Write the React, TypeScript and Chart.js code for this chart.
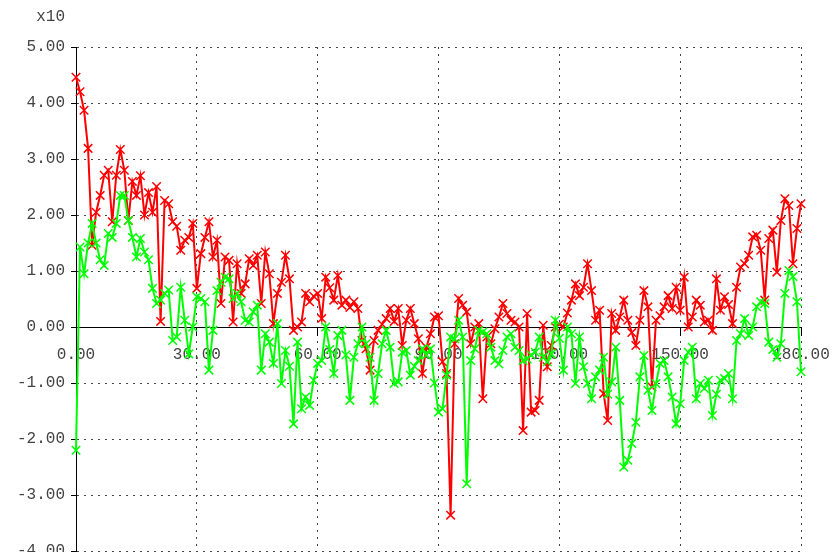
import React, { useEffect, useRef } from "react";
import { Chart, registerables } from "chart.js";

Chart.register(...registerables);

// Red series (values in units of x10), one value per sample 0..180
const redSeries: number[] = [
  4.46, 4.2, 3.87, 3.19, 1.46, 2.05, 2.35, 2.71, 2.8, 1.88,
  2.71, 3.17, 2.8, 1.9, 2.6, 2.35, 2.7, 2.0, 2.4, 2.05,
  2.51, 0.1, 2.26, 2.2, 1.88, 1.8, 1.37, 1.55, 1.6, 1.85,
  0.69, 1.31, 1.6, 1.88, 1.25, 1.55, 0.42, 1.25, 1.19, 0.09,
  1.13, 0.6, 0.77, 1.22, 1.1, 1.28, 0.42, 1.34, 0.95, 0.06,
  0.6, 0.8, 1.28, 0.86, -0.06, 0.0, 0.09, 0.6, 0.45, 0.55,
  0.6, 0.15, 0.89, 0.7, 0.48, 0.92, 0.39, 0.48, 0.35, 0.45,
  0.33, -0.24, -0.39, -0.77, -0.24, -0.06, 0.05, 0.15, 0.33, 0.1,
  0.33, -0.33, 0.12, 0.33, 0.06, -0.21, -0.83, -0.36, -0.12, 0.18,
  0.2, -0.62, -0.83, -3.36, -0.3, 0.51, 0.39, 0.27, -0.3, 0.0,
  0.06, -1.28, -0.18, -0.3, -0.03, 0.18, 0.42, 0.24, 0.12, 0.09,
  0.0, -1.85, 0.24, -1.52, -1.49, -1.31, 0.03, -0.71, -0.33, 0.0,
  0.05, 0.0, 0.25, 0.48, 0.77, 0.56, 0.71, 1.13, 0.65, 0.12,
  0.3, -1.19, -1.67, 0.24, -0.06, 0.18, 0.48, 0.12, -0.1, -0.33,
  0.12, 0.65, 0.36, -1.07, 0.12, 0.2, 0.36, 0.56, 0.33, 0.71,
  0.3, 0.89, 0.0, 0.18, 0.48, 0.39, 0.09, 0.12, -0.06, 0.86,
  0.3, 0.54, 0.4, 0.06, 0.71, 1.07, 1.13, 1.28, 1.61, 1.64,
  1.37, 0.48, 1.58, 1.73, 0.98, 1.9, 2.29, 2.17, 1.13, 1.76,
  2.2,
];

// Green series
const greenSeries: number[] = [
  -2.2, 1.43, 0.95, 1.5, 1.85, 1.5, 1.2, 1.1, 1.67, 1.6,
  1.85, 2.35, 2.35, 1.9, 1.6, 1.25, 1.58, 1.34, 1.2, 0.69,
  0.42, 0.48, 0.6, 0.66, -0.24, -0.18, 0.71, 0.12, -0.48, 0.0,
  0.54, 0.51, 0.45, -0.77, -0.06, 0.65, 0.8, 0.89, 0.86, 0.51,
  0.6, 0.45, 0.12, 0.09, 0.27, 0.39, -0.77, -0.12, -0.27, -0.65,
  0.06, -1.01, -0.42, -0.7, -1.73, -0.27, -1.46, -1.25, -1.4, -0.95,
  -0.65, -0.6, 0.0, -0.4, -0.83, -0.15, -0.06, -0.5, -1.31, -0.54,
  -0.3, 0.0, -0.3, -0.54, -1.31, -0.83, -0.3, -0.06, -0.36, -1.01,
  -0.98, -0.45, -0.42, -0.86, -0.7, -0.6, -0.39, -0.5, -0.39, -1.0,
  -1.52, -1.46, -0.86, -0.18, -0.21, 0.12, -0.18, -2.8, -0.6, -0.39,
  -0.06, -0.09, -0.12, -0.36, -0.6, -0.66, -0.42, -0.18, -0.12, -0.36,
  -0.42, -0.6, -0.57, -0.5, -0.45, -0.18, -0.54, -0.62, -0.48, 0.12,
  -0.2, -0.77, 0.0, -0.12, -1.01, -0.18, -0.71, -1.01, -1.28, -0.89,
  -0.77, -0.54, -1.2, -0.98, -0.36, -1.31, -2.5, -2.38, -2.08, -1.7,
  -0.89, -0.51, -1.13, -1.49, -1.01, -0.65, -0.6, -0.89, -1.25, -1.73,
  -1.37, -0.6, -0.45, -0.36, -1.28, -1.01, -1.1, -0.95, -1.58, -1.2,
  -0.95, -0.92, -0.83, -1.28, -0.24, -0.12, 0.15, -0.15, 0.0, 0.36,
  0.45, 0.42, -0.27, -0.4, -0.54, -0.3, 0.6, 1.01, 0.9, 0.45,
  -0.8,
];

// Axis ranges / tick labels
const xMin = 0;
const xMax = 180;
const xStep = 30;
const yMin = -4;
const yMax = 5;
const yStep = 1;
const scaleNote = "x10";

const sampleIndex = redSeries.map((_, i) => i);

const FONT = '"Liberation Mono", "DejaVu Sans Mono", monospace';
const TEXT_COLOR = "#444";

export default function App() {
  const canvasRef = useRef<HTMLCanvasElement | null>(null);

  useEffect(() => {
    const canvas = canvasRef.current;
    if (!canvas) return;

    const notePlugin = {
      id: "scaleNote",
      afterDraw(chart: any) {
        const ctx = chart.ctx;
        ctx.save();
        ctx.font = `16px ${FONT}`;
        ctx.fillStyle = TEXT_COLOR;
        ctx.textAlign = "right";
        ctx.textBaseline = "middle";
        ctx.fillText(scaleNote, 65, 17);
        ctx.restore();
      },
    };

    const noPad = (s: any) => {
      s.paddingLeft = 0;
      s.paddingRight = 0;
      s.paddingTop = 0;
      s.paddingBottom = 0;
    };

    const chart = new Chart(canvas, {
      type: "line",
      data: {
        labels: sampleIndex,
        datasets: [
          {
            label: "green",
            data: greenSeries,
            borderColor: "#00ff00",
            backgroundColor: "#00ff00",
            borderWidth: 2,
            pointStyle: "crossRot",
            pointRadius: 6,
            pointBorderWidth: 1.5,
            pointBorderColor: "#00ff00",
            tension: 0,
            clip: false as any,
          },
          {
            label: "red",
            data: redSeries,
            borderColor: "#ff0000",
            backgroundColor: "#ff0000",
            borderWidth: 2,
            pointStyle: "crossRot",
            pointRadius: 6,
            pointBorderWidth: 1.5,
            pointBorderColor: "#ff0000",
            tension: 0,
            clip: false as any,
          },
        ],
      },
      options: {
        responsive: false,
        animation: false,
        events: [],
        layout: { padding: { left: 0, right: 31, top: 47, bottom: 11 } },
        plugins: {
          legend: { display: false },
          tooltip: { enabled: false },
          title: { display: false },
        },
        scales: {
          x: {
            type: "linear",
            min: xMin,
            max: xMax,
            position: { y: 0 } as any,
            ticks: {
              stepSize: xStep,
              callback: (v: any) => Number(v).toFixed(2),
              font: { family: FONT, size: 16 },
              color: TEXT_COLOR,
              padding: 10,
              maxRotation: 0,
              autoSkip: false,
            },
            grid: {
              color: "#444",
              lineWidth: 1,
              drawTicks: true,
              tickLength: 8,
              tickColor: "#000",
              tickBorderDash: [],
              z: -1,
            },
            border: { display: true, color: "#000", width: 1, dash: [2, 5], z: 0 },
            afterFit: noPad,
          },
          y: {
            type: "linear",
            min: yMin,
            max: yMax,
            ticks: {
              stepSize: yStep,
              callback: (v: any) => Number(v).toFixed(2),
              font: { family: FONT, size: 16 },
              color: TEXT_COLOR,
              padding: 6,
            },
            grid: {
              color: "#444",
              lineWidth: 1,
              drawTicks: true,
              tickLength: 5,
              tickColor: "#000",
              tickBorderDash: [],
              z: -1,
            },
            border: { display: true, color: "#000", width: 1, dash: [2, 5], z: 0 },
            afterFit: (s: any) => {
              s.width = 76;
              noPad(s);
            },
          },
        },
      },
      plugins: [notePlugin],
    });

    return () => {
      chart.destroy();
    };
  }, []);

  return (
    <div
      style={{
        position: "fixed",
        left: 0,
        top: 0,
        width: 832,
        height: 552,
        overflow: "hidden",
        background: "#fff",
      }}
    >
      <canvas ref={canvasRef} width={832} height={562} style={{ display: "block" }} />
    </div>
  );
}
